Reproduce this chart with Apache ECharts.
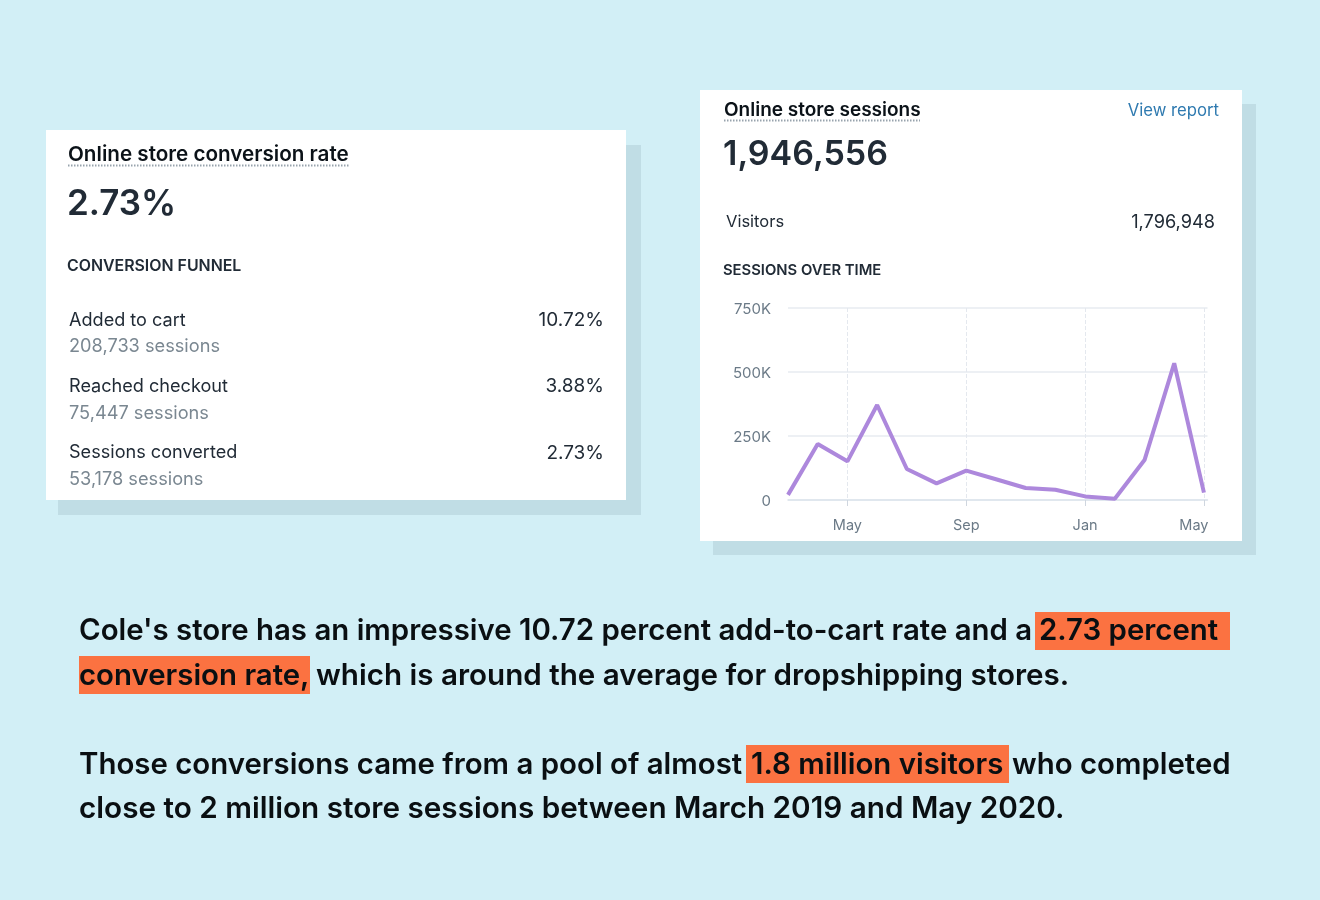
<!DOCTYPE html>
<html>
<head>
<meta charset="utf-8">
<style>
  html, body { margin: 0; padding: 0; background: #d2eff6; }
  #chart { width: 1320px; height: 900px; }
</style>
<script src="https://cdn.jsdelivr.net/npm/echarts@6/dist/echarts.min.js"></script>
</head>
<body>
<div id="chart"></div>
<script>
// monthly sessions, March 2019 to May 2020
const months = ['Mar', 'Apr', 'May', 'Jun', 'Jul', 'Aug', 'Sep', 'Oct', 'Nov', 'Dec', 'Jan', 'Feb', 'Mar', 'Apr', 'May'];
const sessions = [20000, 219000, 151000, 371000, 121000, 65000, 115000, 81000, 47000, 40000, 14000, 5000, 156000, 534000, 29000];
const labelledMonths = [2, 6, 10, 14];

const funnelLabels = ['Added to cart', 'Reached checkout', 'Sessions converted'];
const funnelSessions = ['208,733 sessions', '75,447 sessions', '53,178 sessions'];
const funnelRates = ['10.72%', '3.88%', '2.73%'];

const UI_FONT = 'Inter, Roboto, sans-serif';
const BODY_FONT = 'Inter, sans-serif';

function rect(x, y, w, h, color) {
  return { type: 'rect', z: -5, shape: { x: x, y: y, width: w, height: h }, style: { fill: color } };
}
function text(x, y, str, size, color, weight, align, font) {
  return {
    type: 'text', x: x, y: y, z: 5,
    style: {
      text: str, fontSize: size, fill: color, fontWeight: weight || 400,
      fontFamily: font || UI_FONT, textAlign: align || 'left', textVerticalAlign: 'middle'
    }
  };
}
function copy(x, y, str, size) {
  return text(x, y, str, size || 29.4, '#0a0f12', 600, 'left', BODY_FONT);
}
function dots(x1, x2, y) {
  return {
    type: 'line', z: 5, shape: { x1: x1, y1: y, x2: x2, y2: y },
    style: { stroke: '#98a3ad', lineWidth: 2, lineDash: [1.5, 1.5] }
  };
}

const elements = [
  // cards and their shadows
  rect(58, 145, 583, 370, '#c0dde5'),
  rect(46, 130, 580, 370, '#ffffff'),
  rect(713, 104, 543, 451, '#c0dde5'),
  rect(700, 90, 542, 451, '#ffffff'),
  // highlights behind the copy
  rect(1035, 612, 195, 38, '#fb7241'),
  rect(79, 656, 231, 38, '#fb7241'),
  rect(746, 745, 263, 38, '#fb7241'),

  // left card
  text(68, 154.5, 'Online store conversion rate', 20.65, '#0b1218', 600),
  dots(68, 349, 165.5),
  text(67, 204, '2.73%', 35, '#212b36', 600),
  text(67, 266, 'CONVERSION FUNNEL', 15.9, '#212b36', 600),

  // right card
  text(724, 110, 'Online store sessions', 19, '#0b1218', 600),
  dots(724, 920, 120.5),
  text(1219, 110.5, 'View report', 16.7, '#2f7ab0', 400, 'right'),
  text(723, 155, '1,946,556', 34, '#212b36', 600),
  text(726, 222, 'Visitors', 16.5, '#212b36'),
  text(1215, 222.5, '1,796,948', 18.2, '#212b36', 400, 'right'),
  text(723, 270.5, 'SESSIONS OVER TIME', 14.8, '#212b36', 600),

  // copy
  copy(79, 631, "Cole's store has an impressive 10.72 percent add-to-cart rate and a"),
  copy(1039, 631, '2.73 percent'),
  copy(79, 676, 'conversion rate,'),
  copy(316, 676, 'which is around the average for dropshipping stores.', 29.6),
  copy(79, 765, 'Those conversions came from a pool of almost'),
  copy(751, 765, '1.8 million visitors'),
  copy(1012, 765, 'who completed'),
  copy(79, 809, 'close to 2 million store sessions between March 2019 and May 2020.', 29.7)
];

funnelLabels.forEach(function (label, i) {
  const y = 320.5 + i * 66.2;
  elements.push(text(69, y, label, 18.1, '#212b36'));
  elements.push(text(69, y + 26.5, funnelSessions[i], 18.2, '#7a8791'));
  elements.push(text(604, y, funnelRates[i], 19, '#212b36', 400, 'right'));
});

const chart = echarts.init(document.getElementById('chart'));
chart.setOption({
  backgroundColor: '#d2eff6',
  animation: false,
  graphic: { elements: elements },
  grid: { left: 788, top: 308, width: 419.5, height: 192 },
  xAxis: {
    type: 'value',
    min: 0,
    max: 14.12,
    axisLine: { show: true, onZero: false, lineStyle: { color: '#dce3ec', width: 1.5 } },
    axisTick: { show: true, customValues: labelledMonths, length: 6, lineStyle: { color: '#cfd6df' } },
    axisLabel: {
      customValues: labelledMonths,
      margin: 18,
      fontSize: 14.5,
      fontFamily: UI_FONT,
      color: '#6b7a87',
      formatter: function (v) {
        return v === 14 ? '{last|' + months[v] + '}' : months[v];
      },
      rich: { last: { fontSize: 14.5, fontFamily: UI_FONT, color: '#6b7a87', padding: [0, 20, 0, 0] } }
    },
    splitLine: { show: true, lineStyle: { color: '#e4e8ee', type: 'dashed', width: 1 } }
  },
  yAxis: {
    type: 'value',
    min: 0,
    max: 750000,
    interval: 250000,
    axisLine: { show: false },
    axisTick: { show: false },
    axisLabel: {
      margin: 17,
      fontSize: 15,
      fontFamily: UI_FONT,
      color: '#6b7a87',
      formatter: function (v) {
        return '{tick|' + (v === 0 ? '0' : v / 1000 + 'K') + '}';
      },
      rich: { tick: { fontSize: 15, fontFamily: UI_FONT, color: '#6b7a87', padding: [3, 0, 0, 0] } }
    },
    splitLine: { lineStyle: { color: '#e7ebf0', width: 1.5 } }
  },
  series: [{
    type: 'line',
    data: sessions.map(function (v, i) { return [i, v]; }),
    symbol: 'none',
    smooth: false,
    lineStyle: { color: '#ad88dc', width: 4 }
  }]
});
</script>
</body>
</html>
